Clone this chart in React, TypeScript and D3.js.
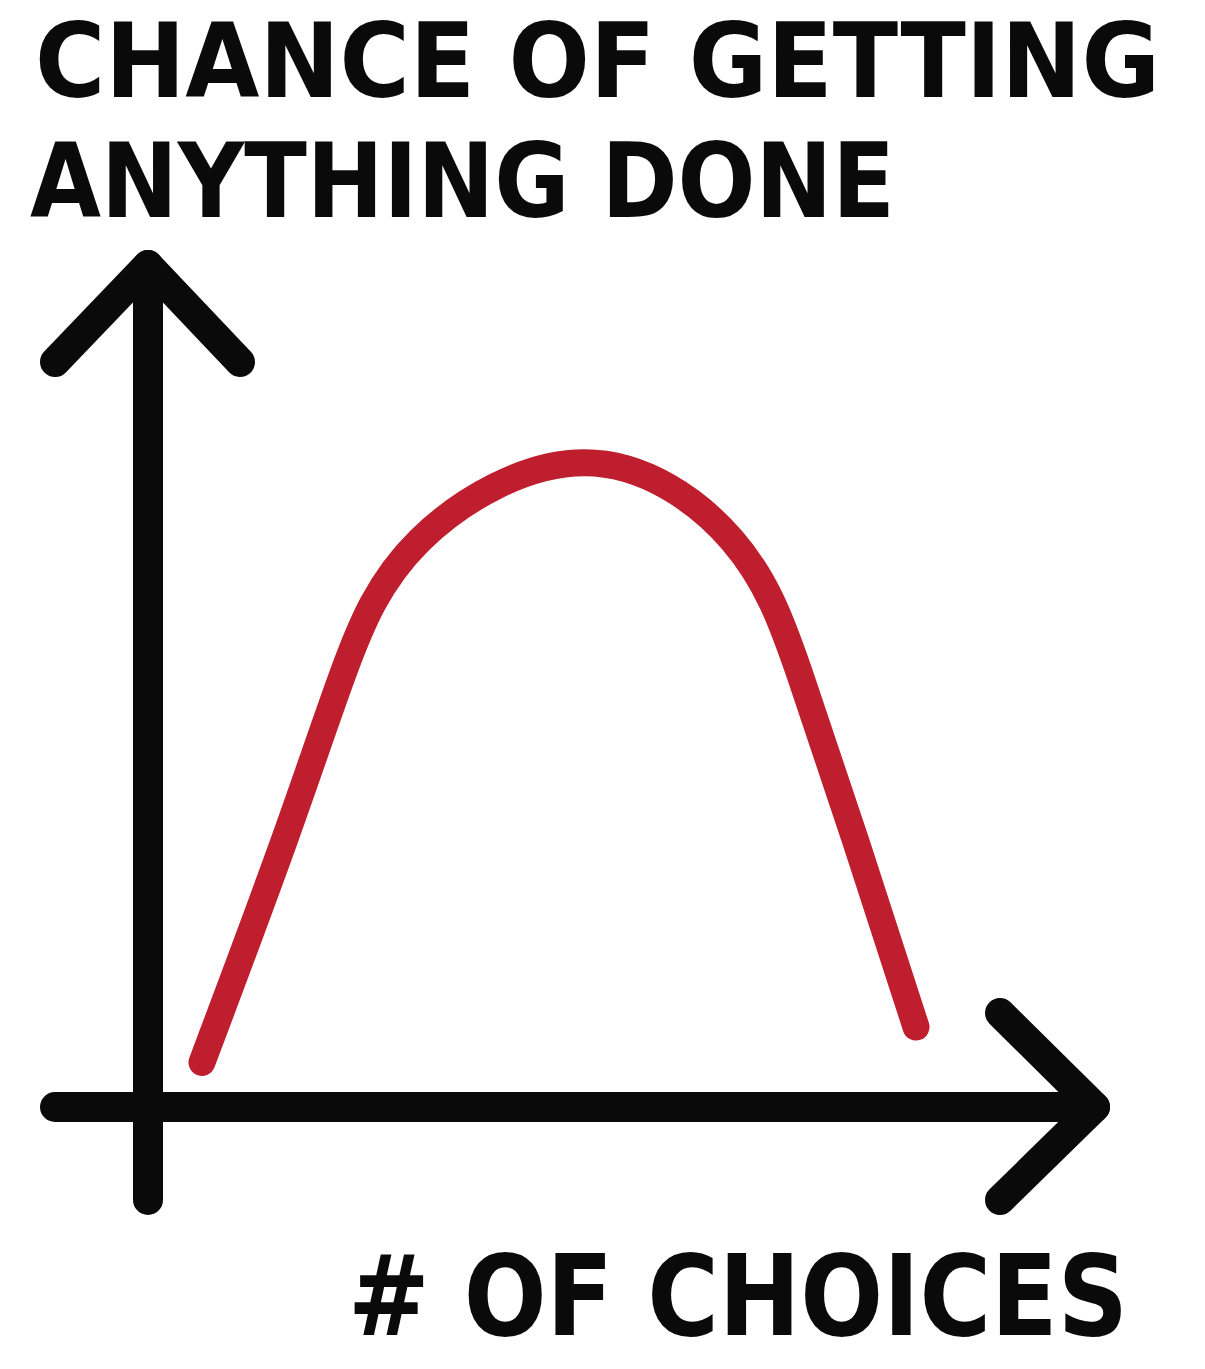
import React, { useEffect, useRef } from "react";
import * as d3 from "d3";

// hand-drawn "choice overload" curve
const titleLines = ["CHANCE OF GETTING", "ANYTHING DONE"];
const xLabel = "# OF CHOICES";

// number of choices (0-100 arbitrary units)
const choices = [5.7, 14.4, 20.6, 28.7, 46.1, 61.7, 68.8, 74.7, 81.1];
// chance of getting anything done (0-100)
const chance = [5.3, 31.7, 51.5, 67.3, 76.5, 67.3, 51.5, 31.7, 9.5];

const W = 1205;
const H = 1369;

const App = () => {
  const ref = useRef(null);

  useEffect(() => {
    const svg = d3.select(ref.current);
    svg.selectAll("*").remove();

    const x: any = d3.scaleLinear().domain([0, 100]).range([148, 1095]);
    const y: any = d3.scaleLinear().domain([0, 100]).range([1107, 265]);

    const ink = "#0a0a0b";
    const axisW = 30;

    // title
    const titleX = [35, 30];
    const titleY = [97, 217];
    const titleLen = [1125, 865];
    titleLines.forEach((t, i) => {
      svg
        .append("text")
        .attr("x", titleX[i])
        .attr("y", titleY[i])
        .attr("textLength", titleLen[i])
        .attr("lengthAdjust", "spacingAndGlyphs")
        .style("font-family", "'DejaVu Sans Condensed', 'DejaVu Sans', sans-serif")
        .style("font-weight", "bold")
        .style("font-size", "104px")
        .attr("fill", ink)
        .text(t);
    });

    // y axis with arrow
    const ax = svg
      .append("g")
      .attr("stroke", ink)
      .attr("stroke-width", axisW)
      .attr("stroke-linecap", "round")
      .attr("stroke-linejoin", "round")
      .attr("fill", "none");
    ax.append("line").attr("x1", x(0)).attr("y1", y(100)).attr("x2", x(0)).attr("y2", 1200);
    ax.append("polyline").attr("points", [[55, 362], [x(0), y(100)], [240, 362]].map((p) => p.join(",")).join(" "));

    // x axis with arrow
    ax.append("line").attr("x1", 55).attr("y1", y(0)).attr("x2", x(100)).attr("y2", y(0));
    ax.append("polyline").attr("points", [[1000, 1013], [x(100), y(0)], [1000, 1200]].map((p) => p.join(",")).join(" "));

    // red curve
    const line = d3
      .line<number>()
      .x((d, i) => x(choices[i]))
      .y((d) => y(d))
      .curve(d3.curveNatural);

    svg
      .append("path")
      .attr("d", line(chance))
      .attr("fill", "none")
      .attr("stroke", "#be1e2d")
      .attr("stroke-width", 27)
      .attr("stroke-linecap", "round");

    // x label
    svg
      .append("text")
      .attr("x", 348)
      .attr("y", 1335)
      .attr("textLength", 780)
      .attr("lengthAdjust", "spacingAndGlyphs")
      .style("font-family", "'DejaVu Sans Condensed', 'DejaVu Sans', sans-serif")
      .style("font-weight", "bold")
      .style("font-size", "112px")
      .attr("fill", ink)
      .text(xLabel);
  }, []);

  return (
    <div style={{ margin: "-8px" }}>
      <svg ref={ref} width={W} height={H} viewBox={`0 0 ${W} ${H}`} style={{ display: "block", background: "#fff" }}></svg>
    </div>
  );
};

export default App;
